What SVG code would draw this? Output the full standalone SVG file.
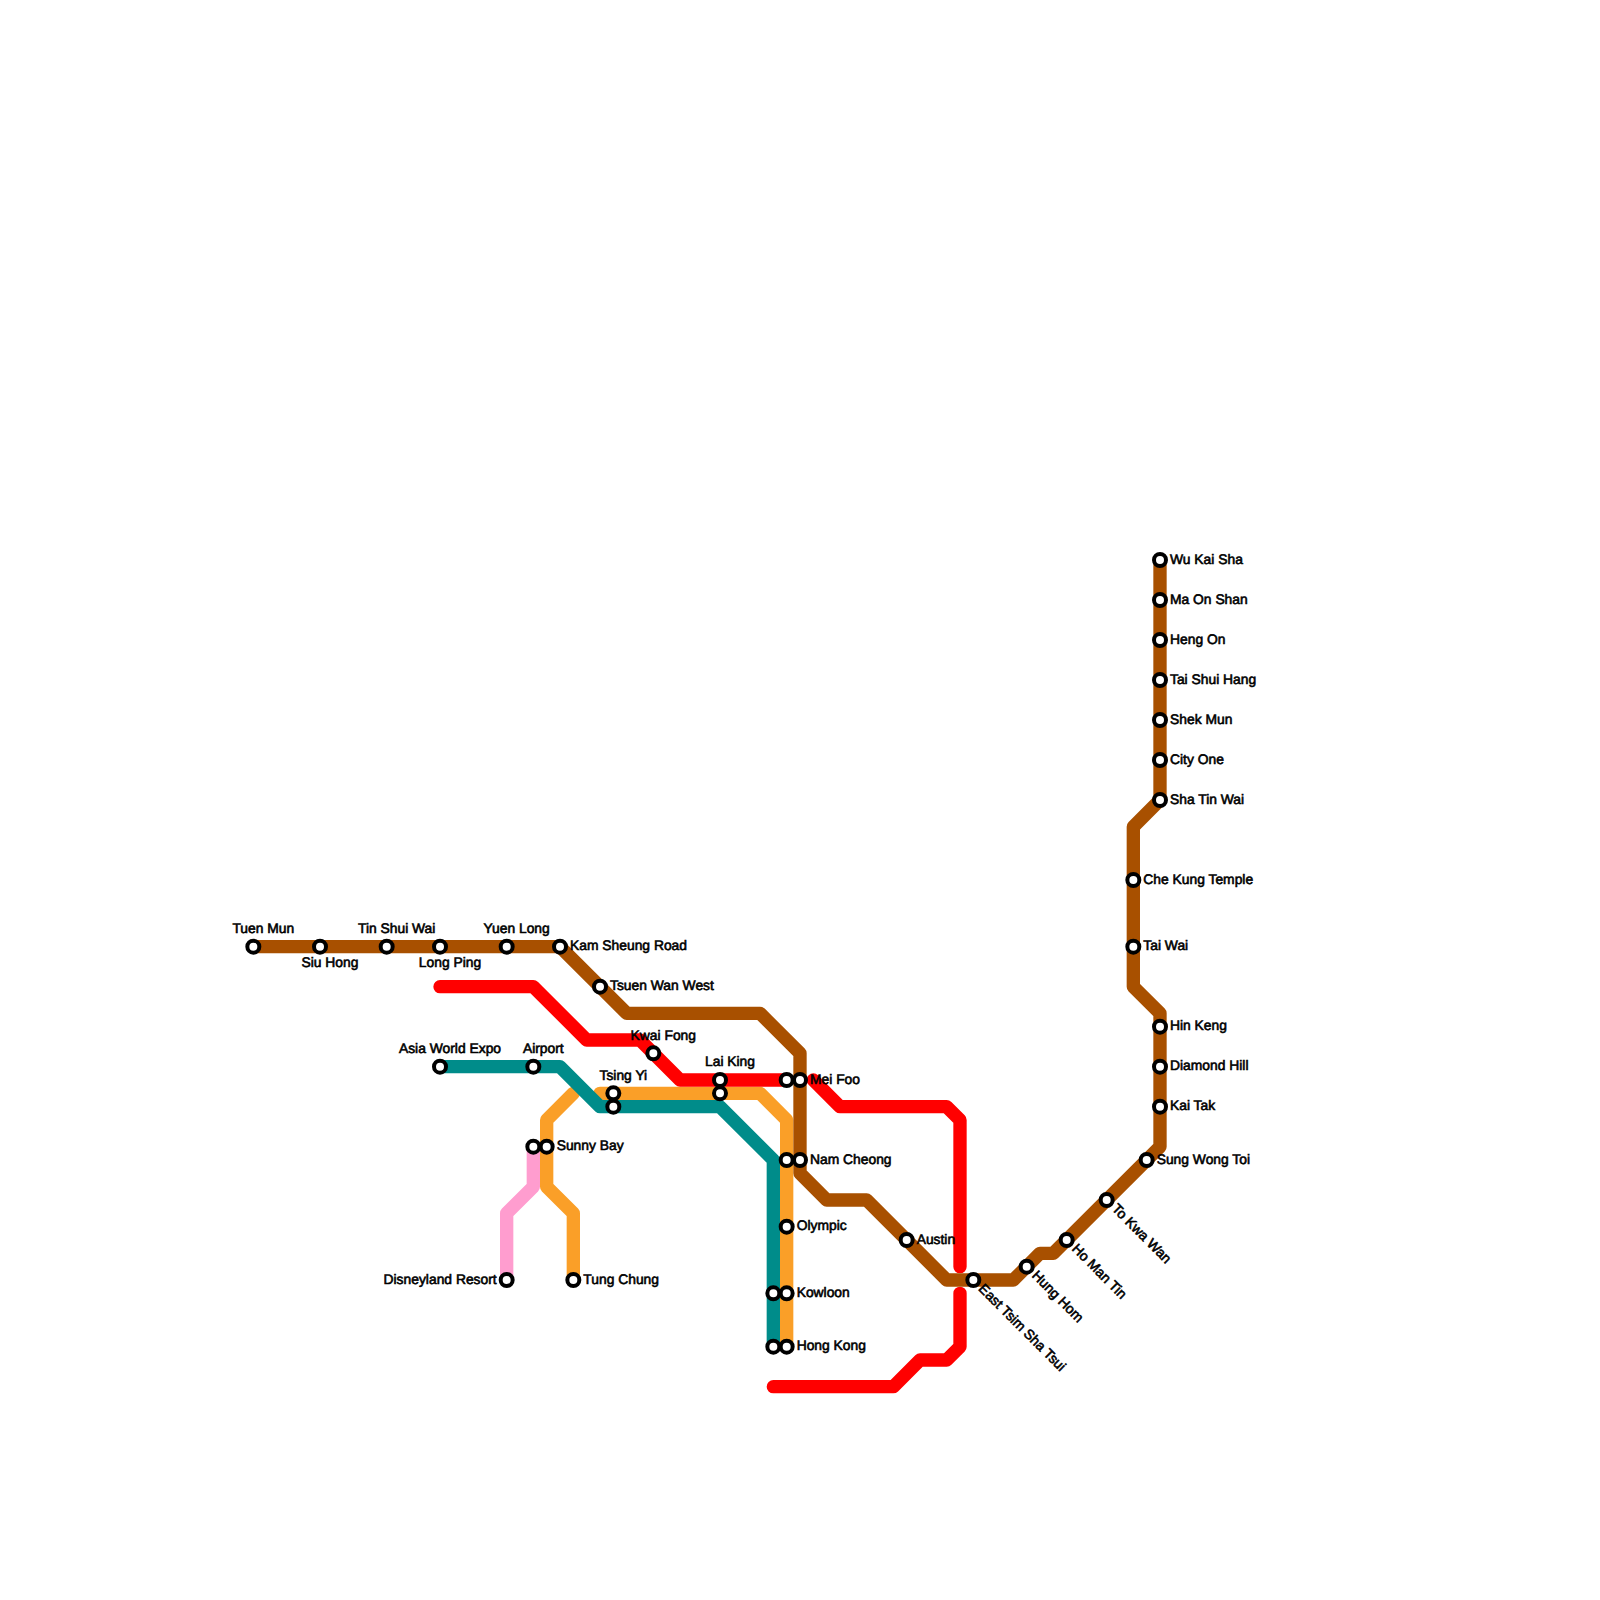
<svg xmlns="http://www.w3.org/2000/svg" width="1600" height="1600" viewBox="0 0 1600 1600">
<style>
.l{fill:none;stroke-width:13.33;stroke-linecap:round;stroke-linejoin:round}
.br{stroke:#a85000}.re{stroke:#ff0000}.te{stroke:#008c8a}.or{stroke:#fa9f28}.pi{stroke:#ff9dcf}
circle{fill:#fff;stroke:#000;stroke-width:4}
text{font-family:"Liberation Sans",Arial,sans-serif;font-size:13.85px;fill:#000;stroke:#000;stroke-width:.6;text-rendering:geometricPrecision}
.m{text-anchor:middle}.e{text-anchor:end}
</style>
<rect width="1600" height="1600" fill="#fff"/>
<g id="connectors">
<path class="l pi" d="M533.33 1146.67V1186.67L506.67 1213.33V1280"/>
<path class="l or" d="M573.33 1280V1213.33L546.67 1186.67V1120L573.33 1093.33"/>
<path class="l or" d="M600 1093.33H760L786.67 1120V1346.67"/>
<path class="l te" d="M440 1066.67H560L600 1106.67H720L773.33 1160V1346.67"/>
<path class="l re" d="M440 986.67H533.33L586.67 1040H640L680 1080H786.67"/>
<path class="l re" d="M813.33 1080L840 1106.67H946.67L960 1120V1266.67"/>
<path class="l re" d="M960 1293.33V1346.67L946.67 1360H920L893.33 1386.67H773.33"/>
<path class="l br" d="M253.33 946.67H560L626.67 1013.33H760L800 1053.33V1173.33L826.67 1200H866.67L946.67 1280H1013.33L1040 1253.33H1053.33L1160 1146.67V1013.33L1133.33 986.67V826.67L1160 800V560"/>
</g>
<g id="tuen-mun"><circle cx="253.33" cy="946.67" r="6"/><text class="m" x="263.33" y="932.8">Tuen Mun</text></g>
<g id="siu-hong"><circle cx="320" cy="946.67" r="6"/><text class="m" x="330" y="966.9">Siu Hong</text></g>
<g id="tin-shui-wai"><circle cx="386.67" cy="946.67" r="6"/><text class="m" x="396.67" y="932.8">Tin Shui Wai</text></g>
<g id="long-ping"><circle cx="440" cy="946.67" r="6"/><text class="m" x="450" y="966.9">Long Ping</text></g>
<g id="yuen-long"><circle cx="506.67" cy="946.67" r="6"/><text class="m" x="516.67" y="932.8">Yuen Long</text></g>
<g id="kam-sheung-road"><circle cx="560" cy="946.67" r="6"/><text x="570" y="950.3">Kam Sheung Road</text></g>
<g id="tsuen-wan-west"><circle cx="600" cy="986.67" r="6"/><text x="610" y="990.3">Tsuen Wan West</text></g>
<g id="asia-world-expo"><circle cx="440" cy="1066.67" r="6"/><text class="m" x="450" y="1052.8">Asia World Expo</text></g>
<g id="airport"><circle cx="533.33" cy="1066.67" r="6"/><text class="m" x="543.33" y="1052.8">Airport</text></g>
<g id="kwai-fong"><circle cx="653.33" cy="1053.33" r="6"/><text class="m" x="663.33" y="1039.7">Kwai Fong</text></g>
<g id="tsing-yi"><circle cx="613.33" cy="1093.33" r="6"/><circle cx="613.33" cy="1106.67" r="6"/><text class="m" x="623.33" y="1079.8">Tsing Yi</text></g>
<g id="lai-king"><circle cx="720" cy="1080" r="6"/><circle cx="720" cy="1093.33" r="6"/><text class="m" x="730" y="1066.4">Lai King</text></g>
<g id="mei-foo"><circle cx="786.67" cy="1080" r="6"/><circle cx="800" cy="1080" r="6"/><text x="810" y="1083.6">Mei Foo</text></g>
<g id="nam-cheong"><circle cx="786.67" cy="1160" r="6"/><circle cx="800" cy="1160" r="6"/><text x="810" y="1163.6">Nam Cheong</text></g>
<g id="olympic"><circle cx="786.67" cy="1226.67" r="6"/><text x="796.67" y="1230.3">Olympic</text></g>
<g id="kowloon"><circle cx="773.33" cy="1293.33" r="6"/><circle cx="786.67" cy="1293.33" r="6"/><text x="796.67" y="1296.9">Kowloon</text></g>
<g id="hong-kong"><circle cx="773.33" cy="1346.67" r="6"/><circle cx="786.67" cy="1346.67" r="6"/><text x="796.67" y="1350.3">Hong Kong</text></g>
<g id="sunny-bay"><circle cx="533.33" cy="1146.67" r="6"/><circle cx="546.67" cy="1146.67" r="6"/><text x="556.67" y="1150.3">Sunny Bay</text></g>
<g id="disneyland-resort"><circle cx="506.67" cy="1280" r="6"/><text class="e" x="496.67" y="1283.6">Disneyland Resort</text></g>
<g id="tung-chung"><circle cx="573.33" cy="1280" r="6"/><text x="583.33" y="1283.6">Tung Chung</text></g>
<g id="austin"><circle cx="906.67" cy="1240" r="6"/><text x="916.67" y="1243.6">Austin</text></g>
<g id="east-tsim-sha-tsui"><circle cx="973.33" cy="1280" r="6"/><text transform="rotate(45 973.33 1280)" x="983.33" y="1283.6">East Tsim Sha Tsui</text></g>
<g id="hung-hom"><circle cx="1026.67" cy="1266.67" r="6"/><text transform="rotate(45 1026.67 1266.67)" x="1036.67" y="1270.3">Hung Hom</text></g>
<g id="ho-man-tin"><circle cx="1066.67" cy="1240" r="6"/><text transform="rotate(45 1066.67 1240)" x="1076.67" y="1243.6">Ho Man Tin</text></g>
<g id="to-kwa-wan"><circle cx="1106.67" cy="1200" r="6"/><text transform="rotate(45 1106.67 1200)" x="1116.67" y="1203.6">To Kwa Wan</text></g>
<g id="sung-wong-toi"><circle cx="1146.67" cy="1160" r="6"/><text x="1156.67" y="1163.6">Sung Wong Toi</text></g>
<g id="kai-tak"><circle cx="1160" cy="1106.67" r="6"/><text x="1170" y="1110.3">Kai Tak</text></g>
<g id="diamond-hill"><circle cx="1160" cy="1066.67" r="6"/><text x="1170" y="1070.3">Diamond Hill</text></g>
<g id="hin-keng"><circle cx="1160" cy="1026.67" r="6"/><text x="1170" y="1030.3">Hin Keng</text></g>
<g id="tai-wai"><circle cx="1133.33" cy="946.67" r="6"/><text x="1143.33" y="950.3">Tai Wai</text></g>
<g id="che-kung-temple"><circle cx="1133.33" cy="880" r="6"/><text x="1143.33" y="883.6">Che Kung Temple</text></g>
<g id="sha-tin-wai"><circle cx="1160" cy="800" r="6"/><text x="1170" y="803.6">Sha Tin Wai</text></g>
<g id="city-one"><circle cx="1160" cy="760" r="6"/><text x="1170" y="763.6">City One</text></g>
<g id="shek-mun"><circle cx="1160" cy="720" r="6"/><text x="1170" y="723.6">Shek Mun</text></g>
<g id="tai-shui-hang"><circle cx="1160" cy="680" r="6"/><text x="1170" y="683.6">Tai Shui Hang</text></g>
<g id="heng-on"><circle cx="1160" cy="640" r="6"/><text x="1170" y="643.6">Heng On</text></g>
<g id="ma-on-shan"><circle cx="1160" cy="600" r="6"/><text x="1170" y="603.6">Ma On Shan</text></g>
<g id="wu-kai-sha"><circle cx="1160" cy="560" r="6"/><text x="1170" y="563.6">Wu Kai Sha</text></g>
</svg>
